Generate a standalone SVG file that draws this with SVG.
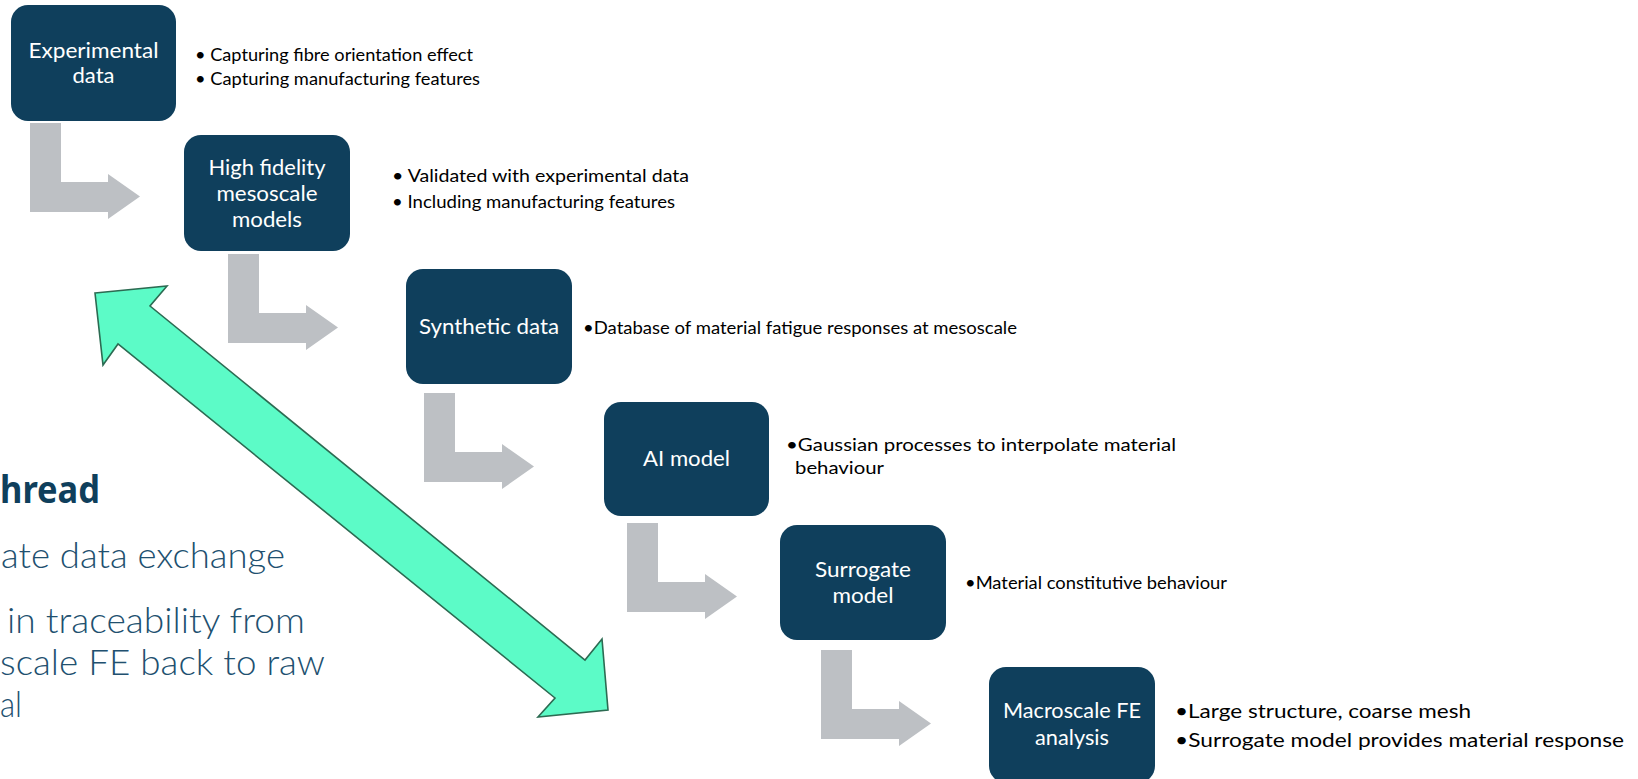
<svg xmlns="http://www.w3.org/2000/svg" width="1638" height="779" viewBox="0 0 1638 779">
  <defs>
    <style>
      .box { fill: #0F3F5C; }
      .lbl { font-family: Lato, "Liberation Sans", sans-serif; font-size: 21.5px; fill: #FFFFFF; text-anchor: middle; }
      .note { font-family: Lato, "Liberation Sans", sans-serif; font-size: 17px; fill: #000000; }
      .note-lg { font-family: Lato, "Liberation Sans", sans-serif; font-size: 20px; fill: #000000; }
      .step { fill: #BDC0C4; }
      .thread { fill: #5CFBC7; stroke: #2C6B52; stroke-width: 1.6; stroke-linejoin: miter; }
      .title { font-family: "Noto Sans", "Liberation Sans", sans-serif; font-size: 38px; font-weight: 700; fill: #0F3F5C; }
      .body { font-family: Lato, "Noto Sans", "Liberation Sans", sans-serif; font-size: 35px; font-weight: 300; fill: #21506F; }
    </style>
    <!-- elbow arrow: down then right -->
    <path id="elbow" d="M0,0 H31 V59 H78 V51 L110,73.5 L78,96 V89 H0 Z"/>
  </defs>

  <rect width="1638" height="779" fill="#FFFFFF"/>

  <!-- side panel text -->
  <g id="side-text">
    <text class="title" x="0" y="503" textLength="100" lengthAdjust="spacingAndGlyphs">hread</text>
    <text class="body" x="1" y="568" textLength="284" lengthAdjust="spacingAndGlyphs">ate data exchange</text>
    <text class="body" x="7" y="633" textLength="298" lengthAdjust="spacingAndGlyphs">in traceability from</text>
    <text class="body" x="0" y="675" textLength="325" lengthAdjust="spacingAndGlyphs">scale FE back to raw</text>
    <text class="body" x="0" y="717" textLength="22" lengthAdjust="spacingAndGlyphs">al</text>
  </g>

  <!-- connectors -->
  <g id="connectors">
    <use href="#elbow" class="step" transform="translate(30,123)"/>
    <use href="#elbow" class="step" transform="translate(228,254)"/>
    <use href="#elbow" class="step" transform="translate(424,393)"/>
    <use href="#elbow" class="step" transform="translate(627,523)"/>
    <use href="#elbow" class="step" transform="translate(821,650)"/>
    <!-- two-headed thread arrow -->
    <polygon class="thread" points="95,293 167,286 150,306 585,660 602,639 608,710 538,717 555,698 118,344 103,365"/>
  </g>

  <g id="node-experimental">
    <rect class="box" x="11" y="5" width="165" height="116" rx="17"/>
    <text class="lbl" x="93.5" y="58" textLength="130" lengthAdjust="spacingAndGlyphs">Experimental</text>
    <text class="lbl" x="93.5" y="83" textLength="42" lengthAdjust="spacingAndGlyphs">data</text>
    <text class="note" x="195" y="61" textLength="278" lengthAdjust="spacingAndGlyphs">• Capturing fibre orientation effect</text>
    <text class="note" x="195" y="85" textLength="285" lengthAdjust="spacingAndGlyphs">• Capturing manufacturing features</text>
  </g>

  <g id="node-mesoscale">
    <rect class="box" x="184" y="135" width="166" height="116" rx="17"/>
    <text class="lbl" x="267" y="175" textLength="117" lengthAdjust="spacingAndGlyphs">High fidelity</text>
    <text class="lbl" x="267" y="201" textLength="101" lengthAdjust="spacingAndGlyphs">mesoscale</text>
    <text class="lbl" x="267" y="227" textLength="70" lengthAdjust="spacingAndGlyphs">models</text>
    <text class="note" x="392" y="182" textLength="297" lengthAdjust="spacingAndGlyphs">• Validated with experimental data</text>
    <text class="note" x="392" y="208" textLength="283" lengthAdjust="spacingAndGlyphs">• Including manufacturing features</text>
  </g>

  <g id="node-synthetic">
    <rect class="box" x="406" y="269" width="166" height="115" rx="17"/>
    <text class="lbl" x="489" y="334" textLength="140" lengthAdjust="spacingAndGlyphs">Synthetic data</text>
    <text class="note" x="583" y="334" textLength="434" lengthAdjust="spacingAndGlyphs">•Database of material fatigue responses at mesoscale</text>
  </g>

  <g id="node-ai">
    <rect class="box" x="604" y="402" width="165" height="114" rx="17"/>
    <text class="lbl" x="686.5" y="466" textLength="87" lengthAdjust="spacingAndGlyphs">AI model</text>
    <text class="note" x="786" y="451" textLength="390" lengthAdjust="spacingAndGlyphs">•Gaussian processes to interpolate material</text>
    <text class="note" x="795" y="474" textLength="89" lengthAdjust="spacingAndGlyphs">behaviour</text>
  </g>

  <g id="node-surrogate">
    <rect class="box" x="780" y="525" width="166" height="115" rx="17"/>
    <text class="lbl" x="863" y="577" textLength="96" lengthAdjust="spacingAndGlyphs">Surrogate</text>
    <text class="lbl" x="863" y="603" textLength="61" lengthAdjust="spacingAndGlyphs">model</text>
    <text class="note" x="965" y="589" textLength="262" lengthAdjust="spacingAndGlyphs">•Material constitutive behaviour</text>
  </g>

  <g id="node-macroscale">
    <rect class="box" x="989" y="667" width="166" height="116" rx="17"/>
    <text class="lbl" x="1072" y="718" textLength="138" lengthAdjust="spacingAndGlyphs">Macroscale FE</text>
    <text class="lbl" x="1072" y="745" textLength="74" lengthAdjust="spacingAndGlyphs">analysis</text>
    <text class="note-lg" x="1175" y="718" textLength="296" lengthAdjust="spacingAndGlyphs">•Large structure, coarse mesh</text>
    <text class="note-lg" x="1175" y="747" textLength="449" lengthAdjust="spacingAndGlyphs">•Surrogate model provides material response</text>
  </g>
</svg>
